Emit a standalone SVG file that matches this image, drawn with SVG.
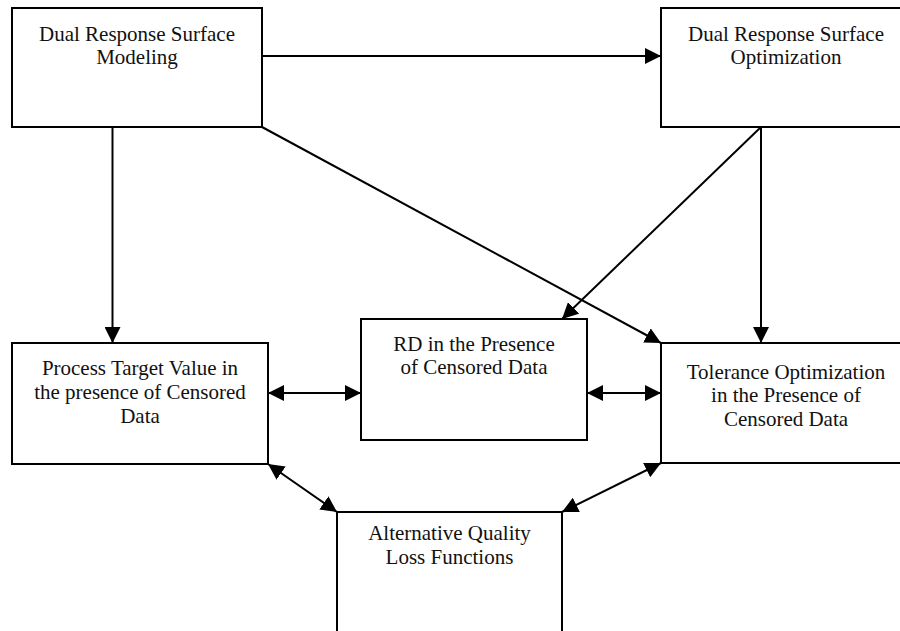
<svg xmlns="http://www.w3.org/2000/svg" width="900" height="631" viewBox="0 0 900 631">
<style>
.box{fill:#fff;stroke:#000;stroke-width:2}
.lbl{font-family:"Liberation Serif","Times New Roman",serif;font-size:21px;fill:#111;text-anchor:middle}
.c{fill:none;stroke:#000;stroke-width:2}
</style>
<defs>
<marker id="ah" markerUnits="userSpaceOnUse" markerWidth="16" markerHeight="16" viewBox="0 0 15 15" refX="15" refY="7.5" orient="auto-start-reverse">
<path d="M0,0 L15,7.5 L0,15 z" fill="#000"/>
</marker>
</defs>
<rect width="900" height="631" fill="#fff"/>
<g id="connectors">
<line class="c" x1="262" y1="56" x2="661" y2="56" marker-end="url(#ah)"/>
<line class="c" x1="112.5" y1="127" x2="112.5" y2="343" marker-end="url(#ah)"/>
<line class="c" x1="262" y1="127" x2="661" y2="343" marker-end="url(#ah)"/>
<line class="c" x1="761" y1="127" x2="562" y2="319" marker-end="url(#ah)"/>
<line class="c" x1="761" y1="127" x2="761" y2="343" marker-end="url(#ah)"/>
<line class="c" x1="268" y1="393" x2="361" y2="393" marker-start="url(#ah)" marker-end="url(#ah)"/>
<line class="c" x1="587" y1="393" x2="661" y2="393" marker-start="url(#ah)" marker-end="url(#ah)"/>
<line class="c" x1="268" y1="464" x2="337" y2="512" marker-start="url(#ah)" marker-end="url(#ah)"/>
<line class="c" x1="661" y1="463" x2="562" y2="512" marker-start="url(#ah)" marker-end="url(#ah)"/>
</g>
<g id="drs-modeling">
<rect class="box" x="12" y="8" width="250" height="119"/>
<text class="lbl" x="137" y="40.5">Dual Response Surface</text>
<text class="lbl" x="137" y="63.5">Modeling</text>
</g>
<g id="drs-optimization">
<rect class="box" x="661" y="8" width="250" height="119"/>
<text class="lbl" x="786" y="40.5">Dual Response Surface</text>
<text class="lbl" x="786" y="63.5">Optimization</text>
</g>
<g id="process-target">
<rect class="box" x="12" y="343" width="256" height="121"/>
<text class="lbl" x="140" y="375">Process Target Value in</text>
<text class="lbl" x="140" y="399">the presence of Censored</text>
<text class="lbl" x="140" y="422.5">Data</text>
</g>
<g id="rd-censored">
<rect class="box" x="361" y="319" width="226" height="121"/>
<text class="lbl" x="474" y="350.5">RD in the Presence</text>
<text class="lbl" x="474" y="373.5">of Censored Data</text>
</g>
<g id="tolerance">
<rect class="box" x="661" y="343" width="250" height="120"/>
<text class="lbl" x="786" y="378.5">Tolerance Optimization</text>
<text class="lbl" x="786" y="402">in the Presence of</text>
<text class="lbl" x="786" y="426">Censored Data</text>
</g>
<g id="alt-quality">
<rect class="box" x="337" y="512" width="225" height="130"/>
<text class="lbl" x="449.5" y="540">Alternative Quality</text>
<text class="lbl" x="449.5" y="563.5">Loss Functions</text>
</g>
</svg>
